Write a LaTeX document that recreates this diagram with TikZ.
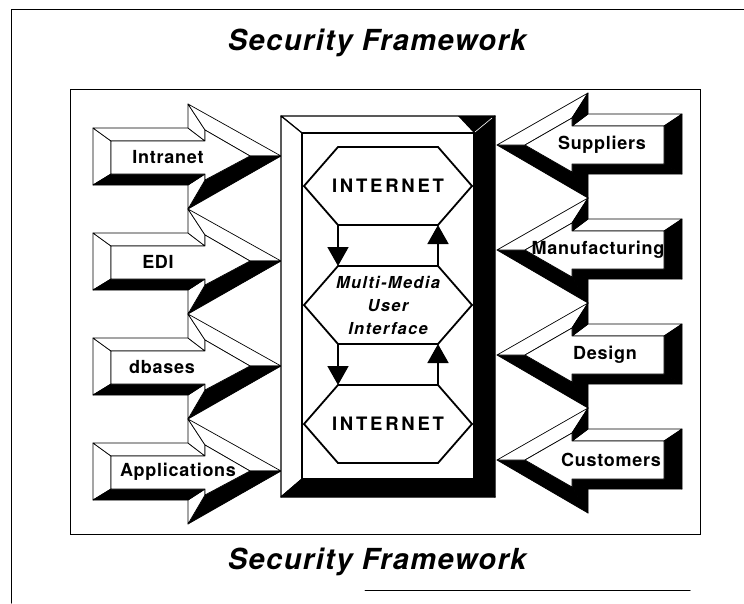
\documentclass[tikz,border=0pt]{standalone}
\usepackage{fontspec}
\setmainfont{TeX Gyre Heros}
\usetikzlibrary{arrows.meta}

\tikzset{
  facet/.style={draw,fill=white,line width=.7pt,line join=round},
  dark/.style={draw,fill=black,line width=.7pt,line join=round},
  rim/.style={draw,line width=1.2pt,line join=round},
  hexline/.style={line width=1.8pt,line join=miter},
  flow/.style={line width=1.8pt,-{Triangle[length=19pt,width=21pt]}},
  heading/.style={font=\fontsize{29}{34}\selectfont\bfseries\itshape\addfontfeature{LetterSpace=5}},
  tag/.style={font=\fontsize{18}{22}\selectfont\bfseries\addfontfeature{LetterSpace=4}},
  net/.style={font=\fontsize{18.5}{22}\selectfont\bfseries\addfontfeature{LetterSpace=15}},
  mmui/.style={font=\fontsize{16.5}{23}\selectfont\bfseries\itshape\addfontfeature{LetterSpace=8},align=center},
}

\begin{document}
\begin{tikzpicture}[x=1pt,y=-1pt,line cap=round]
\useasboundingbox[fill=white] (0,0) rectangle (744,603);

% page frame and panel
\draw[line width=1pt] (744,9) -- (11,9) -- (11,603);
\draw[line width=1pt] (365,590) -- (690,590);
\draw[line width=1pt] (70,89) rectangle (700,534);

\node[heading] (ttop) at (377,43) {Security Framework};
\node[heading] (tbot) at (377,562) {Security Framework};

% left column: block arrows pointing in
\foreach \name/\c/\tx [count=\i] in {Intranet/156/168, EDI/261/158, dbases/366/162, Applications/471/178}{
  \draw[facet] (93,\c-28) -- (111,\c-15) -- (111,\c+18) -- (93,\c+29) -- cycle;
  \draw[facet] (93,\c-28) -- (188,\c-28) -- (205,\c-15) -- (111,\c-15) -- cycle;
  \draw[facet] (188,\c-28) -- (188,\c-52) -- (205,\c-26) -- (205,\c-15) -- cycle;
  \draw[facet] (188,\c-52) -- (281,\c) -- (250,\c) -- (205,\c-26) -- cycle;
  \draw[dark] (281,\c) -- (188,\c+53) -- (205,\c+24) -- (250,\c) -- cycle;
  \draw[facet] (188,\c+53) -- (188,\c+29) -- (205,\c+18) -- (205,\c+24) -- cycle;
  \draw[dark] (188,\c+29) -- (93,\c+29) -- (111,\c+18) -- (205,\c+18) -- cycle;
  \draw[facet] (111,\c-15) -- (205,\c-15) -- (205,\c-26) -- (250,\c) -- (205,\c+24) -- (205,\c+18) -- (111,\c+18) -- cycle;
  \node[tag] (in\i) at (\tx,\c+1) {\name};
}

% right column: block arrows pointing in
\foreach \name/\c/\tx [count=\i] in {Suppliers/145/602, Manufacturing/250/598, Design/355/605, Customers/460/611}{
  \draw[facet] (588,\c-31) -- (682,\c-31) -- (664,\c-19) -- (572,\c-19) -- cycle;
  \draw[dark] (682,\c-31) -- (682,\c+29) -- (664,\c+19) -- (664,\c-19) -- cycle;
  \draw[dark] (682,\c+29) -- (588,\c+29) -- (572,\c+19) -- (664,\c+19) -- cycle;
  \draw[dark] (588,\c+29) -- (588,\c+53) -- (572,\c+27) -- (572,\c+19) -- cycle;
  \draw[dark] (588,\c+53) -- (497,\c) -- (525,\c) -- (572,\c+27) -- cycle;
  \draw[facet] (497,\c) -- (588,\c-52) -- (572,\c-27) -- (525,\c) -- cycle;
  \draw[dark] (588,\c-52) -- (588,\c-31) -- (572,\c-19) -- (572,\c-27) -- cycle;
  \draw[facet] (525,\c) -- (572,\c-27) -- (572,\c-19) -- (664,\c-19) -- (664,\c+19) -- (572,\c+19) -- (572,\c+27) -- cycle;
  \node[tag] (out\i) at (\tx,\c) {\name};
}

% bevelled console in the middle
\draw[rim,fill=white] (281,116) -- (495,116) -- (474,133) -- (302,133) -- cycle;
\draw[rim,fill=white] (281,116) -- (302,133) -- (302,479) -- (281,497) -- cycle;
\draw[rim,fill=black] (495,116) -- (495,497) -- (474,479) -- (474,133) -- cycle;
\draw[rim,fill=black] (281,497) -- (495,497) -- (474,479) -- (302,479) -- cycle;
\fill (458,116) -- (495,116) -- (474,133) -- cycle;
\draw[white,line width=.6pt] (475,132) -- (492,118);
\draw[rim,fill=white] (302,133) rectangle (474,479);

% the three hexagons
\node[net] (h1) at (388,186) {INTERNET};
\node[mmui] (h2) at (388,305) {Multi-Media\\User\\Interface};
\node[net] (h3) at (388,424) {INTERNET};
\foreach \h in {h1,h2,h3}{
  \path (\h.center) ++(-50,-39) coordinate (\h-nw) ++(100,0) coordinate (\h-ne)
    ++(0,78) coordinate (\h-se) ++(-100,0) coordinate (\h-sw);
  \draw[hexline] (\h-nw) -- (\h-ne) -- ++(34,39) -- (\h-se) -- (\h-sw) -- ++(-34,-39) -- cycle;
}
\draw[flow] (h1-sw) -- (h2-nw);
\draw[flow] (h2-ne) -- (h1-se);
\draw[flow] (h2-sw) -- (h3-nw);
\draw[flow] (h3-ne) -- (h2-se);
\end{tikzpicture}
\end{document}
